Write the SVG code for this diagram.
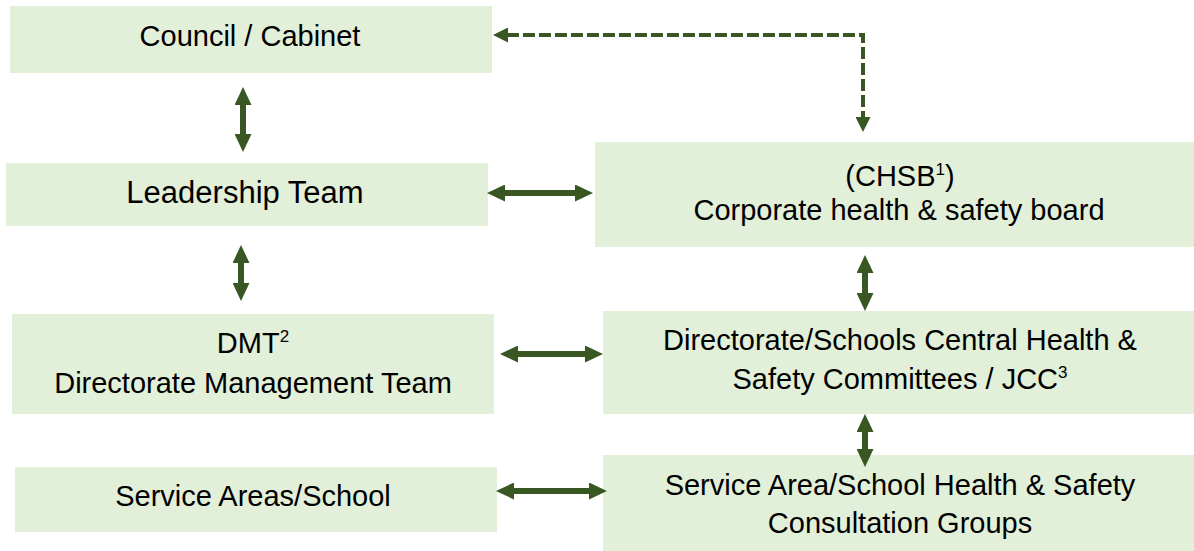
<svg xmlns="http://www.w3.org/2000/svg" width="1194" height="551" viewBox="0 0 1194 551">
<style>
.box{fill:#E2EFD9;}
.t{font-family:"Liberation Sans",Arial,sans-serif;font-size:29px;fill:#000;text-anchor:middle;}
.big{font-size:31px;}
.sup{font-size:17px;}
.arr{stroke:#385723;stroke-width:6;fill:none;marker-start:url(#dh);marker-end:url(#dh);}
.dash{stroke:#385723;stroke-width:4;fill:none;stroke-dasharray:12 4;marker-start:url(#sh);marker-end:url(#sh);}
</style>
<defs>
<marker id="dh" markerUnits="userSpaceOnUse" markerWidth="18" markerHeight="17" viewBox="0 0 18 17" refX="1" refY="8.5" orient="auto-start-reverse">
<path d="M0,0 L18,8.5 L0,17 z" fill="#385723"/>
</marker>
<marker id="sh" markerUnits="userSpaceOnUse" markerWidth="15" markerHeight="15" viewBox="0 0 15 15" refX="1" refY="7.5" orient="auto-start-reverse">
<path d="M0,0 L15,7.5 L0,15 z" fill="#385723"/>
</marker>
</defs>
<rect width="1194" height="551" fill="#fff"/>
<g id="council">
<rect class="box" x="10" y="6" width="482" height="67"/>
<text class="t" x="250" y="46">Council / Cabinet</text>
</g>
<g id="leadership">
<rect class="box" x="6" y="163" width="482" height="63"/>
<text class="t big" x="245" y="203">Leadership Team</text>
</g>
<g id="chsb">
<rect class="box" x="595" y="142" width="599" height="105"/>
<text class="t" x="900" y="186">(CHSB<tspan class="sup" dy="-11">1</tspan><tspan dy="11">)</tspan></text>
<text class="t" x="899" y="220">Corporate health &amp; safety board</text>
</g>
<g id="dmt">
<rect class="box" x="12" y="314" width="482" height="100"/>
<text class="t" x="253" y="353">DMT<tspan class="sup" dy="-11">2</tspan></text>
<text class="t" x="253" y="393">Directorate Management Team</text>
</g>
<g id="directorate">
<rect class="box" x="603" y="311" width="591" height="103"/>
<text class="t" x="900" y="350">Directorate/Schools Central Health &amp;</text>
<text class="t" x="900" y="389">Safety Committees / JCC<tspan class="sup" dy="-11">3</tspan></text>
</g>
<g id="service">
<rect class="box" x="15" y="467" width="482" height="65"/>
<text class="t" x="253" y="506">Service Areas/School</text>
</g>
<g id="service-hs">
<rect class="box" x="603" y="455" width="591" height="96"/>
<text class="t" x="900" y="495">Service Area/School Health &amp; Safety</text>
<text class="t" x="900" y="533">Consultation Groups</text>
</g>
<g id="connectors">
<path class="dash" d="M507,35 H863 V118"/>
<line class="arr" x1="243" y1="104" x2="243" y2="135"/>
<line class="arr" x1="504" y1="193" x2="576" y2="193"/>
<line class="arr" x1="241" y1="262" x2="241" y2="284"/>
<line class="arr" x1="517" y1="354" x2="586" y2="354"/>
<line class="arr" x1="513" y1="491" x2="590" y2="491"/>
<line class="arr" x1="865" y1="272" x2="865" y2="294"/>
<line class="arr" x1="865" y1="431" x2="865" y2="450"/>
</g>
</svg>
